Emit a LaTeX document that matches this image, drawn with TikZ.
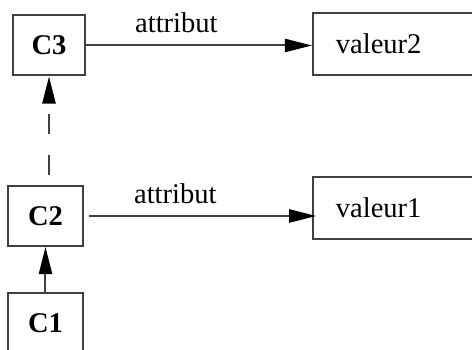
\documentclass[tikz,border=0pt]{standalone}
\usepackage{fontspec}
\setmainfont{Liberation Serif}
\usetikzlibrary{arrows.meta}

\tikzset{
  cls/.style={draw=black!75, line width=.7pt, minimum height=21pt, font=\bfseries},
  val/.style={draw=black!75, line width=.7pt, anchor=west, minimum height=21.7pt,
    text width=50pt, inner xsep=8pt, align=left},
  lien/.style={draw=black!75, line width=.7pt, -{Triangle[length=9.5pt,width=4.6pt,color=black]}},
}

\begin{document}
\begin{tikzpicture}[x=.35pt, y=-.35pt]
   \clip (0,0) rectangle (472,350);
   \node[cls, minimum width=25.2pt] (C3) at (49,45.5) {C3};
   \node[cls, minimum width=26.25pt] (C2) at (45.5,216) {C2};
   \node[cls, minimum width=26.25pt] (C1) at (45.5,323) {C1};
   \node[val] (V2) at (312,44) {valeur2};
   \node[val] (V1) at (312,208) {valeur1};
   % liens d'attribut
   \draw[lien] (C3.east) -- (C3.east -| V2.west) node[pos=.4, above, inner sep=4pt] {attribut};
   \draw[lien] ([xshift=1.75pt]C2.east) -- ([xshift=1.5pt]C2.east -| V1.west) node[pos=.38, above, inner sep=4pt] {attribut};
   % heritage
   \draw[lien] (C1) -- (C2);
   \draw[lien, dash pattern=on 7pt off 7.35pt, dash phase=10.85pt] (C3.south |- C2.north) -- (C3.south);
\end{tikzpicture}
\end{document}
